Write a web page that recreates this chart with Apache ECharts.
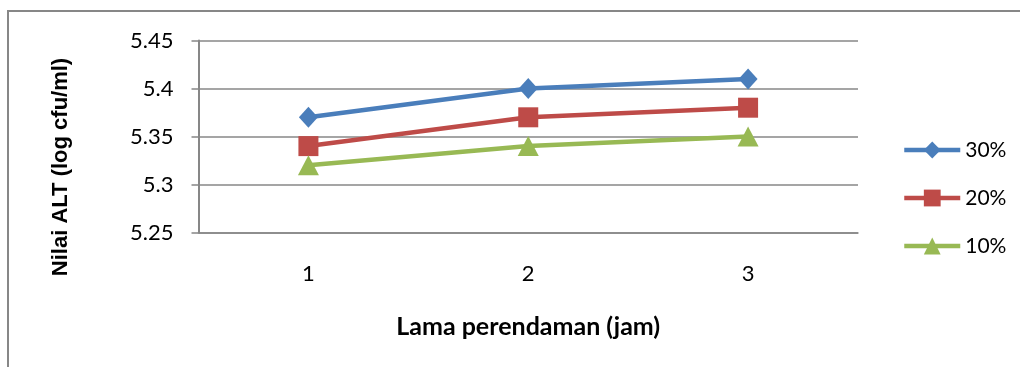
<!DOCTYPE html>
<html>
<head>
<meta charset="utf-8">
<script src="https://cdn.jsdelivr.net/npm/echarts@6/dist/echarts.min.js"></script>
<style>
  html, body { margin: 0; padding: 0; background: #fff; }
  #chart { width: 1020px; height: 367px; }
</style>
</head>
<body>
<div id="chart"></div>
<script>
// Soaking time (hours) on the category axis
const categories = ['1', '2', '3'];

// Total plate count (log cfu/ml) for each concentration
const seriesNames = ['30%', '20%', '10%'];
const values30 = [5.37, 5.40, 5.41];
const values20 = [5.34, 5.37, 5.38];
const values10 = [5.32, 5.34, 5.35];

// Value axis range
const yMin = 5.25;
const yMax = 5.45;
const yStep = 0.05;

const gray = '#878787';
const chart = echarts.init(document.getElementById('chart'), null, { renderer: 'canvas' });

function lineSeries(name, data, color, symbol, size) {
  return {
    name: name,
    type: 'line',
    data: data,
    symbol: symbol,
    symbolSize: size,
    showSymbol: true,
    lineStyle: { color: color, width: 4.5 },
    itemStyle: { color: color },
    emphasis: { disabled: true },
    animation: false
  };
}

chart.setOption({
  animation: false,
  grid: { left: 198.5, right: 162, top: 40.5, bottom: 134.5 },
  graphic: [
    {
      type: 'rect',
      shape: { x: 8, y: 11, width: 1100, height: 500 },
      style: { fill: 'none', stroke: gray, lineWidth: 2 },
      silent: true
    },
    {
      type: 'text',
      x: 61,
      y: 167,
      rotation: Math.PI / 2,
      style: {
        text: 'Nilai ALT (log cfu/ml)',
        fontFamily: '"Liberation Sans", Arial, sans-serif',
        fontWeight: 'bold',
        fontSize: 22,
        fill: '#000',
        align: 'center',
        verticalAlign: 'middle'
      }
    }
  ],
  legend: {
    orient: 'vertical',
    left: 897,
    top: 134.5,
    itemWidth: 56,
    itemHeight: 21,
    itemGap: 27,
    data: seriesNames,
    lineStyle: { width: 4.5 },
    textStyle: { fontFamily: 'Lato, sans-serif', fontSize: 21, color: '#000' }
  },
  xAxis: {
    type: 'category',
    data: categories,
    boundaryGap: true,
    axisLine: { show: true, lineStyle: { color: gray, width: 1.5 } },
    axisTick: { show: false },
    axisLabel: { margin: 30, fontFamily: 'Lato, sans-serif', fontSize: 22, color: '#000' },
    name: 'Lama perendaman (jam)',
    nameLocation: 'middle',
    nameGap: 82,
    nameTextStyle: { fontFamily: 'Lato, sans-serif', fontWeight: 'bold', fontSize: 25, color: '#000' }
  },
  yAxis: {
    type: 'value',
    min: yMin,
    max: yMax,
    interval: yStep,
    axisLine: { show: true, lineStyle: { color: gray, width: 2 } },
    axisTick: { show: true, length: 7, lineStyle: { color: gray, width: 1.5 } },
    splitLine: { show: true, lineStyle: { color: gray, width: 1.5 } },
    axisLabel: { margin: 25, fontFamily: 'Lato, sans-serif', fontSize: 22, color: '#000' }
  },
  series: [
    lineSeries(seriesNames[0], values30, '#4A7EBB', 'diamond', [19, 21]),
    lineSeries(seriesNames[1], values20, '#BE4B48', 'rect', 20),
    lineSeries(seriesNames[2], values10, '#98B954', 'triangle', [21, 20])
  ]
});
</script>
</body>
</html>
